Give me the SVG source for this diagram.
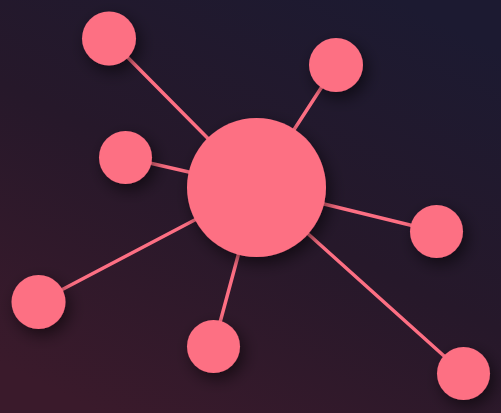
<svg xmlns="http://www.w3.org/2000/svg" width="501" height="413" viewBox="0 0 501 413">
<defs>
<linearGradient id="bg" x1="0.8" y1="0" x2="0.2" y2="1">
<stop offset="0" stop-color="#1c1a31"/>
<stop offset="0.5" stop-color="#26182a"/>
<stop offset="1" stop-color="#3a1a2b"/>
</linearGradient>
<filter id="sh" x="-60%" y="-60%" width="220%" height="220%">
<feDropShadow dx="4" dy="6" stdDeviation="8" flood-color="#000" flood-opacity="0.55"/>
</filter>
</defs>
<style>
.n{fill:#fd6f83;filter:url(#sh)}
.e{stroke:#fd6f83;stroke-width:3.5;stroke-linecap:round}
</style>
<rect width="501" height="413" fill="url(#bg)"/>
<g id="edges">
<line class="e" x1="256.5" y1="187.5" x2="109" y2="38.5"/>
<line class="e" x1="256.5" y1="187.5" x2="336" y2="65"/>
<line class="e" x1="256.5" y1="187.5" x2="125.5" y2="157.5"/>
<line class="e" x1="256.5" y1="187.5" x2="436.5" y2="231.5"/>
<line class="e" x1="256.5" y1="187.5" x2="38.5" y2="302"/>
<line class="e" x1="256.5" y1="187.5" x2="213.5" y2="346.5"/>
<line class="e" x1="256.5" y1="187.5" x2="463.5" y2="373.5"/>
</g>
<g id="hub"><circle class="n" cx="256.5" cy="187.5" r="69.5"/></g>
<g id="n1"><circle class="n" cx="109" cy="38.5" r="27"/></g>
<g id="n2"><circle class="n" cx="336" cy="65" r="27"/></g>
<g id="n3"><circle class="n" cx="125.5" cy="157.5" r="26.5"/></g>
<g id="n4"><circle class="n" cx="436.5" cy="231.5" r="26.5"/></g>
<g id="n5"><circle class="n" cx="38.5" cy="302" r="27"/></g>
<g id="n6"><circle class="n" cx="213.5" cy="346.5" r="26.5"/></g>
<g id="n7"><circle class="n" cx="463.5" cy="373.5" r="26.5"/></g>
</svg>
